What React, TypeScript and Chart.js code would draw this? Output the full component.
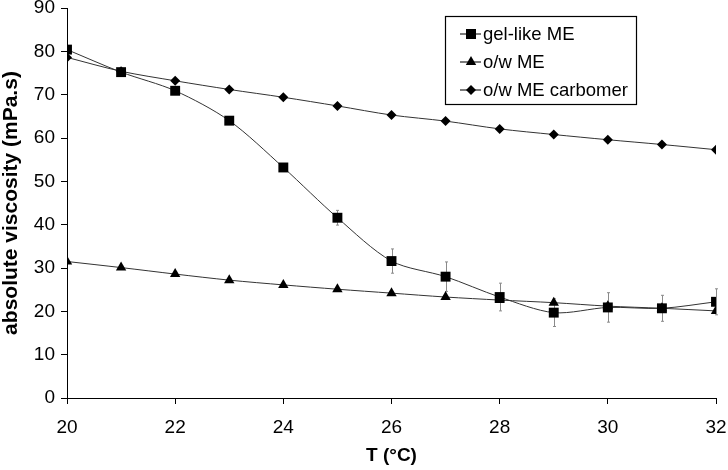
import React, { useEffect, useRef } from "react";
import { Chart, registerables } from "chart.js";

Chart.register(...registerables);

const temps = [20, 21, 22, 23, 24, 25, 26, 27, 28, 29, 30, 31, 32];
const gelLike = [80.4, 75.2, 70.9, 64.0, 53.2, 41.6, 31.6, 28.0, 23.3, 19.7, 20.9, 20.7, 22.2];
const gelErr = [0, 0, 0, 0, 0.4, 1.7, 2.8, 3.4, 3.2, 3.2, 3.4, 3.0, 3.0];
const owME = [31.5, 30.1, 28.6, 27.2, 26.1, 25.1, 24.2, 23.3, 22.6, 22.0, 21.2, 20.7, 20.1];
const owCarbomer = [78.6, 75.4, 73.2, 71.2, 69.4, 67.4, 65.3, 63.9, 62.1, 60.8, 59.6, 58.5, 57.3];
const seriesLabels = ["gel-like ME", "o/w ME", "o/w ME carbomer"];
const xTitle = "T (°C)";
const yTitle = "absolute viscosity (mPa.s)";

const FONT = "'Liberation Sans', Arial, sans-serif";

function drawMarker(ctx: CanvasRenderingContext2D, kind: string, x: number, y: number) {
  ctx.beginPath();
  if (kind === "rect") {
    ctx.rect(x - 5, y - 5, 10, 10);
  } else if (kind === "triangle") {
    const r = 6;
    ctx.moveTo(x, y - r);
    ctx.lineTo(x + r * 0.866, y + r * 0.5);
    ctx.lineTo(x - r * 0.866, y + r * 0.5);
    ctx.closePath();
  } else {
    const r = 5;
    ctx.moveTo(x, y - r);
    ctx.lineTo(x + r, y);
    ctx.lineTo(x, y + r);
    ctx.lineTo(x - r, y);
    ctx.closePath();
  }
  ctx.fillStyle = "#000";
  ctx.fill();
}

const errorBarPlugin = {
  id: "errorBars",
  beforeDatasetsDraw(chart: any) {
    const ctx = chart.ctx as CanvasRenderingContext2D;
    const xs = chart.scales.x;
    const ys = chart.scales.y;
    ctx.save();
    ctx.strokeStyle = "#8a8a8a";
    ctx.lineWidth = 1;
    temps.forEach((t, i) => {
      const e = gelErr[i];
      if (!e) return;
      const px = Math.round(xs.getPixelForValue(t)) + 0.5;
      const y1 = ys.getPixelForValue(gelLike[i] + e);
      const y2 = ys.getPixelForValue(gelLike[i] - e);
      ctx.beginPath();
      ctx.moveTo(px, y1);
      ctx.lineTo(px, y2);
      ctx.moveTo(px - 1.5, y1);
      ctx.lineTo(px + 1.5, y1);
      ctx.moveTo(px - 1.5, y2);
      ctx.lineTo(px + 1.5, y2);
      ctx.stroke();
    });
    ctx.restore();
  },
};

const legendPlugin = {
  id: "boxLegend",
  afterDraw(chart: any) {
    const ctx = chart.ctx as CanvasRenderingContext2D;
    const kinds = ["rect", "triangle", "rectRot"];
    const bx = 445.5, by = 16.5, bw = 191, bh = 88;
    ctx.save();
    ctx.fillStyle = "#fff";
    ctx.fillRect(bx, by, bw, bh);
    ctx.strokeStyle = "#000";
    ctx.lineWidth = 1.2;
    ctx.strokeRect(bx, by, bw, bh);
    seriesLabels.forEach((lab, i) => {
      const y = 34 + i * 28;
      ctx.strokeStyle = "#222";
      ctx.lineWidth = 1.2;
      ctx.beginPath();
      ctx.moveTo(460, y);
      ctx.lineTo(481, y);
      ctx.stroke();
      drawMarker(ctx, kinds[i], 471, y);
      ctx.fillStyle = "#000";
      ctx.font = `18.5px ${FONT}`;
      ctx.textBaseline = "middle";
      ctx.textAlign = "left";
      ctx.fillText(lab, 483, y + 1);
    });
    ctx.restore();
  },
};

export default function App() {
  const ref = useRef<HTMLCanvasElement>(null);
  useEffect(() => {
    if (!ref.current) return;
    Chart.defaults.font.family = FONT;
    const mk = (vals: number[]) => temps.map((t, i) => ({ x: t, y: vals[i] }));
    const common = {
      borderColor: "#333",
      borderWidth: 1,
      pointBackgroundColor: "#000",
      pointBorderColor: "#000",
      pointBorderWidth: 0,
      tension: 0.3,
      fill: false,
    };
    const chart = new Chart(ref.current, {
      type: "line",
      data: {
        datasets: [
          { ...common, label: seriesLabels[0], data: mk(gelLike), pointStyle: "rect", pointRadius: 7 },
          { ...common, label: seriesLabels[1], data: mk(owME), pointStyle: "triangle", pointRadius: 6 },
          { ...common, label: seriesLabels[2], data: mk(owCarbomer), pointStyle: "rectRot", pointRadius: 5 },
        ],
      },
      options: {
        animation: false,
        responsive: false,
        maintainAspectRatio: false,
        layout: { padding: { top: 0, right: 0, left: 0, bottom: 0 } },
        plugins: { legend: { display: false }, tooltip: { enabled: false } },
        scales: {
          x: {
            type: "linear",
            min: 20,
            max: 32,
            afterFit: (s: any) => {
              s.height = 72;
              s.paddingRight = 12;
              s.paddingLeft = 0;
            },
            ticks: { stepSize: 2, color: "#000", font: { size: 19 }, padding: 12, maxRotation: 0 },
            grid: { drawOnChartArea: false, drawTicks: true, tickLength: 6, color: "#000" },
            border: { color: "#000", width: 1 },
            title: {
              display: true,
              text: xTitle,
              color: "#000",
              font: { size: 19, weight: "bold" },
              padding: { top: 0, bottom: 3 },
            },
          },
          y: {
            type: "linear",
            min: 0,
            max: 90,
            afterFit: (s: any) => {
              s.width = 67;
              s.paddingTop = 8;
              s.paddingBottom = 0;
            },
            ticks: { stepSize: 10, color: "#000", font: { size: 19 }, padding: 6 },
            grid: { drawOnChartArea: false, drawTicks: true, tickLength: 6, color: "#000" },
            border: { color: "#000", width: 1 },
            title: {
              display: true,
              text: yTitle,
              color: "#000",
              font: { size: 21, weight: "bold", lineHeight: 1.1 },
              padding: { top: 0, bottom: 0 },
            },
          },
        },
      } as any,
      plugins: [errorBarPlugin, legendPlugin],
    });
    return () => chart.destroy();
  }, []);
  return (
    <div style={{ position: "fixed", left: 0, top: 0, width: 728, height: 470, background: "#fff" }}>
      <canvas ref={ref} width={728} height={470} style={{ width: 728, height: 470 }} />
    </div>
  );
}
